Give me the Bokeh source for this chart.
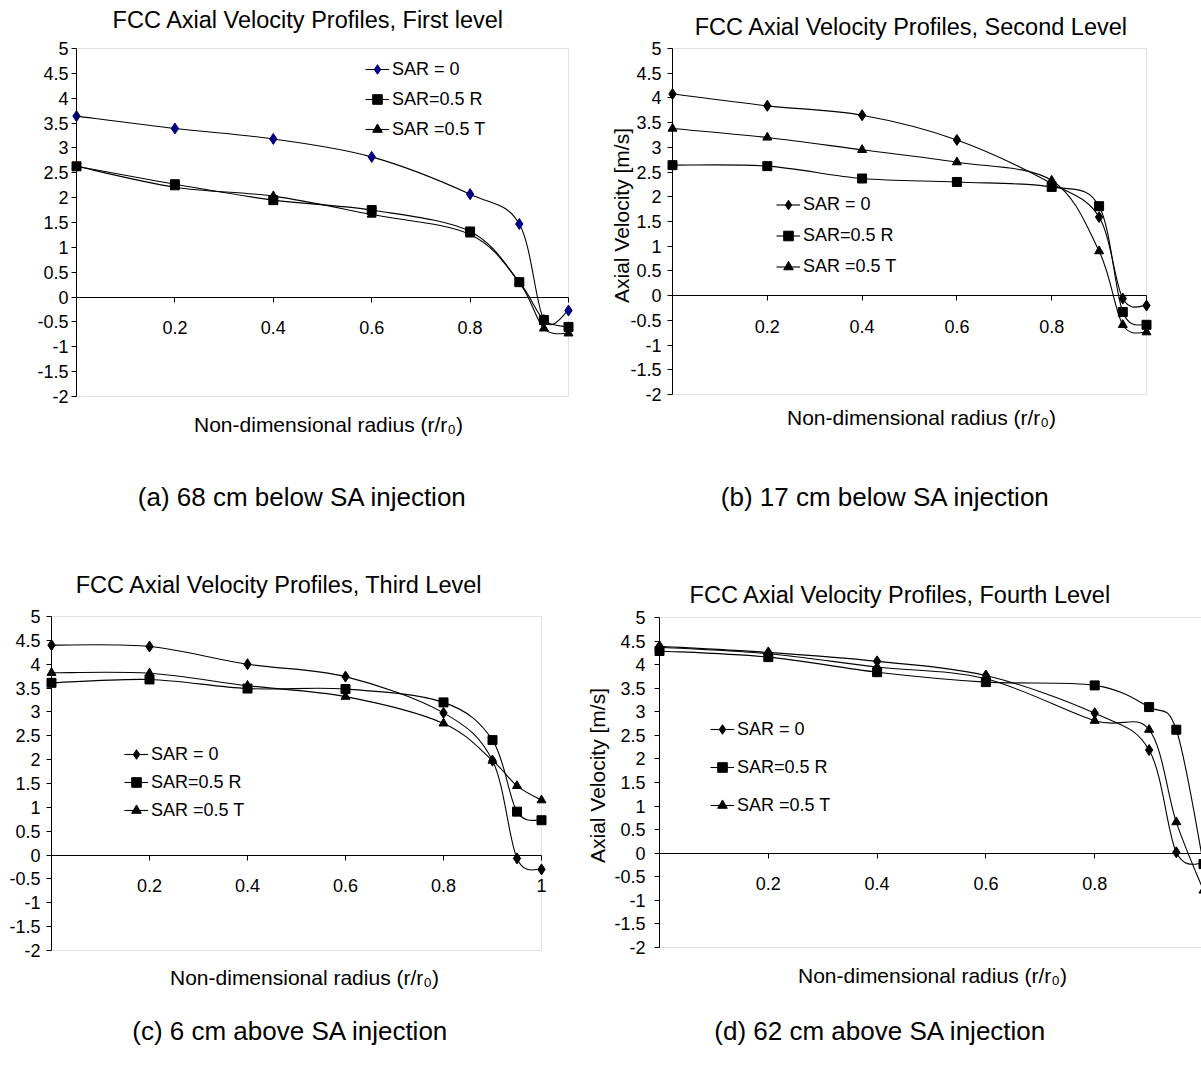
from bokeh.plotting import figure
from bokeh.models import (Range1d, FixedTicker, Label, Legend, LegendItem, ColumnDataSource,
                          LinearAxis, BoxAnnotation)
from bokeh.layouts import row, column
from bokeh.embed import file_html
from bokeh.resources import INLINE

# ---------------- data ----------------
radius = [0.0, 0.2, 0.4, 0.6, 0.8, 0.9, 0.95, 1.0]
series_names = ["SAR = 0", "SAR=0.5 R", "SAR =0.5 T"]

level1_sar0 = [3.64, 3.39, 3.18, 2.82, 2.07, 1.47, -0.46, -0.27]
level1_r = [2.63, 2.27, 1.95, 1.75, 1.32, 0.30, -0.46, -0.60]
level1_t = [2.63, 2.21, 2.03, 1.66, 1.26, 0.29, -0.63, -0.73]

level2_sar0 = [4.08, 3.84, 3.65, 3.15, 2.27, 1.59, -0.06, -0.20]
level2_r = [2.64, 2.62, 2.37, 2.30, 2.20, 1.81, -0.33, -0.59]
level2_t = [3.38, 3.20, 2.95, 2.70, 2.33, 0.90, -0.59, -0.74]

level3_sar0 = [4.40, 4.37, 4.00, 3.74, 2.98, 1.98, -0.07, -0.30]
level3_r = [3.61, 3.68, 3.49, 3.48, 3.20, 2.41, 0.91, 0.73]
level3_t = [3.82, 3.81, 3.55, 3.32, 2.76, 1.98, 1.45, 1.15]

level4_sar0 = [4.39, 4.26, 4.07, 3.77, 2.97, 2.19, 0.02, -0.22]
level4_r = [4.29, 4.16, 3.84, 3.63, 3.56, 3.10, 2.62, -0.23]
level4_t = [4.37, 4.23, 3.95, 3.70, 2.81, 2.62, 0.66, -0.79]

x_min, x_max = 0.0, 1.0
y_min, y_max = -2.0, 5.0
y_ticks = [-2.0, -1.5, -1.0, -0.5, 0.0, 0.5, 1.0, 1.5, 2.0, 2.5, 3.0, 3.5, 4.0, 4.5, 5.0]
y_tick_labels = ["-2", "-1.5", "-1", "-0.5", "0", "0.5", "1", "1.5", "2", "2.5",
                 "3", "3.5", "4", "4.5", "5"]
x_ticks = [0.2, 0.4, 0.6, 0.8, 1.0]
x_tick_labels = ["0.2", "0.4", "0.6", "0.8", ""]
x_tick_labels_c = ["0.2", "0.4", "0.6", "0.8", "1"]

titles = ["FCC Axial Velocity Profiles, First level",
          "FCC Axial Velocity Profiles, Second Level",
          "FCC Axial Velocity Profiles, Third Level",
          "FCC Axial Velocity Profiles, Fourth Level"]
captions = ["(a) 68 cm below SA injection", "(b) 17 cm below SA injection",
            "(c) 6 cm above SA injection", "(d) 62 cm above SA injection"]
x_title = "Non-dimensional radius (r/r\u2080)"
y_title = "Axial Velocity [m/s]"

FONT = "Liberation Sans"


def smooth_source(xs, ys):
    """Bezier control points (Catmull-Rom style smoothing, as in spreadsheet charts)."""
    n = len(xs)
    d = {k: [] for k in ["x0", "y0", "x1", "y1", "cx0", "cy0", "cx1", "cy1"]}
    for i in range(n - 1):
        im = max(i - 1, 0)
        ip = min(i + 2, n - 1)
        d["x0"].append(xs[i]); d["y0"].append(ys[i])
        d["x1"].append(xs[i + 1]); d["y1"].append(ys[i + 1])
        d["cx0"].append(xs[i] + (xs[i + 1] - xs[im]) / 6.0)
        d["cy0"].append(ys[i] + (ys[i + 1] - ys[im]) / 6.0)
        d["cx1"].append(xs[i + 1] - (xs[ip] - xs[i]) / 6.0)
        d["cy1"].append(ys[i + 1] - (ys[ip] - ys[i]) / 6.0)
    return ColumnDataSource(d)


def make_panel(cfg):
    W, H = cfg["w"], cfg["h"]
    pl, pr, pt, pb = cfg["frame"]          # pixel box of the plot area inside the figure
    sx = (pr - pl) / (x_max - x_min)
    sy = (pb - pt) / (y_max - y_min)
    xr = Range1d(x_min - pl / sx, x_min + (W - pl) / sx)
    yr = Range1d(y_min - (H - pb) / sy, y_max + pt / sy)

    p = figure(width=W, height=H, x_range=xr, y_range=yr, output_backend="svg",
               toolbar_location=None, title=None, x_axis_location=None, y_axis_location=None,
               min_border=0, min_border_left=0, min_border_right=0, min_border_top=0,
               min_border_bottom=0)
    p.background_fill_color = "white"
    p.border_fill_color = "white"
    p.outline_line_color = None
    p.xgrid.visible = False
    p.ygrid.visible = False

    p.add_layout(BoxAnnotation(left=x_min, right=x_max, bottom=y_min, top=y_max,
                               fill_color=None, fill_alpha=0, line_color="#a0a0a0",
                               line_width=1, level="underlay"))

    ya = LinearAxis(fixed_location=x_min, bounds=(y_min, y_max))
    ya.ticker = FixedTicker(ticks=y_ticks)
    ya.major_label_overrides = {t: l for t, l in zip(y_ticks, y_tick_labels)}
    ya.major_tick_in = 0
    ya.major_tick_out = 5
    ya.minor_tick_line_color = None
    ya.axis_line_color = "black"
    ya.major_tick_line_color = "black"
    ya.major_label_text_font = FONT
    ya.major_label_text_font_size = "18px"
    ya.major_label_text_color = "black"
    ya.major_label_standoff = cfg["ystand"]
    p.add_layout(ya, "left")

    xa = LinearAxis(fixed_location=0.0, bounds=(x_min, x_max))
    xa.ticker = FixedTicker(ticks=x_ticks)
    xa.major_label_overrides = {t: l for t, l in zip(x_ticks, cfg["xlabels"])}
    xa.major_tick_in = 0
    xa.major_tick_out = 5
    xa.minor_tick_line_color = None
    xa.axis_line_color = "black"
    xa.major_tick_line_color = "black"
    xa.major_label_text_font = FONT
    xa.major_label_text_font_size = "18px"
    xa.major_label_text_color = "black"
    xa.major_label_standoff = 19
    p.add_layout(xa, "below")

    items = []
    markers = [("diamond", 11), ("square", 9), ("triangle", 9)]
    for k, ys in enumerate(cfg["series"]):
        mk, sz = markers[k]
        mcol = cfg["c0"] if k == 0 else "black"
        bz = p.bezier(x0="x0", y0="y0", x1="x1", y1="y1", cx0="cx0", cy0="cy0",
                      cx1="cx1", cy1="cy1", source=smooth_source(radius, ys),
                      line_color="black", line_width=1.1)
        sc = p.scatter(radius, ys, marker=mk, size=sz,
                       fill_color=mcol, line_color=mcol, line_width=1)
        items.append(LegendItem(label=series_names[k], renderers=[bz, sc]))

    leg = Legend(items=items, location=cfg["legloc"], orientation="vertical",
                 label_text_font=FONT, label_text_font_size="18px",
                 label_text_color="black", glyph_width=24, glyph_height=cfg["pitch"],
                 label_height=cfg["pitch"], spacing=0, padding=0, margin=0,
                 label_standoff=3, border_line_color=None, background_fill_alpha=0)
    p.add_layout(leg)

    def add_text(x, y, text, size, angle=0, baseline="alphabetic"):
        p.add_layout(Label(x=x, y=y, x_units="screen", y_units="screen", text=text,
                           text_font=FONT, text_font_size=size, text_align="center",
                           text_baseline=baseline, text_color="black",
                           angle=angle, angle_units="deg"))

    add_text(cfg["title_xy"][0], cfg["title_xy"][1], cfg["title"], "23.5px")
    add_text(cfg["xt_xy"][0], cfg["xt_xy"][1], x_title, "21px")
    add_text(cfg["cap_xy"][0], cfg["cap_xy"][1], cfg["caption"], "26px")
    if cfg["yl_xy"] is not None:
        add_text(cfg["yl_xy"][0], cfg["yl_xy"][1], y_title, "21px", angle=90, baseline="middle")
    return p


pa = make_panel(dict(w=580, h=540, frame=(76, 568, 48, 396), ystand=3, xlabels=x_tick_labels,
                     c0="#000080", series=[level1_sar0, level1_r, level1_t],
                     legloc=(365, 396), pitch=30, title=titles[0], title_xy=(308, 521),
                     xt_xy=(328, 116), caption=captions[0], cap_xy=(302, 44), yl_xy=None))
pb = make_panel(dict(w=621, h=540, frame=(92, 566, 48, 394), ystand=6, xlabels=x_tick_labels,
                     c0="black", series=[level2_sar0, level2_r, level2_t],
                     legloc=(196, 258), pitch=31, title=titles[1], title_xy=(331, 514),
                     xt_xy=(341, 123), caption=captions[1], cap_xy=(305, 44), yl_xy=(41, 325)))
pc = make_panel(dict(w=580, h=536, frame=(51, 541, 76, 410), ystand=6, xlabels=x_tick_labels_c,
                     c0="black", series=[level3_sar0, level3_r, level3_t],
                     legloc=(124, 252), pitch=28, title=titles[2], title_xy=(279, 492),
                     xt_xy=(304, 99), caption=captions[2], cap_xy=(290, 46), yl_xy=None))
pd_ = make_panel(dict(w=621, h=536, frame=(79, 623, 77, 407), ystand=9, xlabels=x_tick_labels,
                      c0="black", series=[level4_sar0, level4_r, level4_t],
                      legloc=(130, 252), pitch=38, title=titles[3], title_xy=(320, 482),
                      xt_xy=(352, 101), caption=captions[3], cap_xy=(300, 46), yl_xy=(17, 301)))

layout = column(row(pa, pb), row(pc, pd_))
open("out.html", "w").write(file_html(layout, INLINE, title="FCC Axial Velocity Profiles"))
